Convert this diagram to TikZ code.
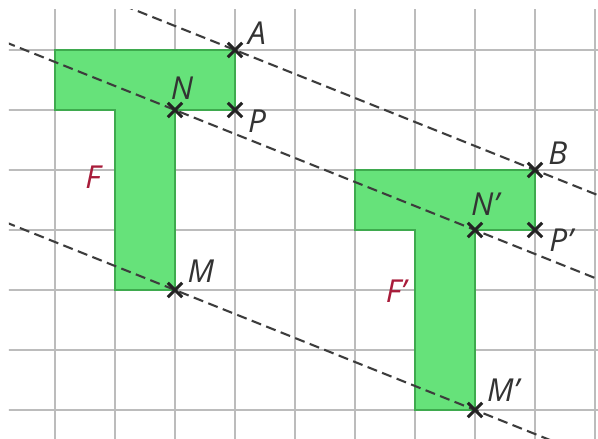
\documentclass[tikz,border=0pt]{standalone}
\usepackage{fontspec}
\setmainfont{Open Sans}
\usetikzlibrary{calc}
\definecolor{gridgray}{RGB}{188,188,188}
\definecolor{tfill}{RGB}{102,226,122}
\definecolor{tdraw}{RGB}{62,170,78}
\definecolor{dashgray}{RGB}{60,60,60}
\definecolor{crossk}{RGB}{35,35,35}
\definecolor{fred}{RGB}{168,28,58}
\tikzset{
  gridline/.style={draw=gridgray, line width=0.75pt},
  tshape/.style={fill=tfill, draw=tdraw, line width=0.6pt},
  dashline/.style={draw=dashgray, line width=1pt, dash pattern=on 4.8pt off 2.6pt},
  crossline/.style={draw=crossk, line width=1.5pt},
  lbl/.style={text=black!80, font=\fontsize{15}{17}\selectfont\itshape, inner sep=0pt},
  flbl/.style={text=fred, font=\fontsize{15}{17}\selectfont\itshape, inner sep=0pt},
}
\newcommand{\crossmark}[1]{\draw[crossline] ($(#1)+(-0.12,0.12)$) -- ($(#1)+(0.12,-0.12)$) ($(#1)+(-0.12,-0.12)$) -- ($(#1)+(0.12,0.12)$);}
\begin{document}
\begin{tikzpicture}
\useasboundingbox (-0.9167,0.8333) rectangle (9.05,-6.4833);
\fill[white] (-0.9167,0.8333) rectangle (9.05,-6.4833);
\coordinate (A) at (3,0);
\coordinate (N) at (2,-1);
\coordinate (P) at (3,-1);
\coordinate (M) at (2,-4);
\coordinate (B) at (8,-2);
\coordinate (N2) at (7,-3);
\coordinate (P2) at (8,-3);
\coordinate (M2) at (7,-6);
\begin{scope}
\clip (-0.767,0.667) rectangle (9.05,-6.4833);
\foreach \i in {0,...,9} \draw[gridline] (\i,1) -- (\i,-7);
\foreach \j in {0,...,6} \draw[gridline] (-1,-\j) -- (10,-\j);
\draw[tshape] (0,0) -- (3,0) -- (3,-1) -- (2,-1) -- (2,-4) -- (1,-4) -- (1,-1) -- (0,-1) -- cycle;
\draw[tshape] (5,-2) -- (8,-2) -- (8,-3) -- (7,-3) -- (7,-6) -- (6,-6) -- (6,-3) -- (5,-3) -- cycle;
\draw[dashline] ($(A)!-1!(B)$) -- ($(B)!-1!(A)$);
\draw[dashline] ($(N)!-1!(N2)$) -- ($(N2)!-1!(N)$);
\draw[dashline] ($(M)!-1!(M2)$) -- ($(M2)!-1!(M)$);
\end{scope}
\foreach \p in {A,N,P,M,B,N2,P2,M2} {\crossmark{\p}}
\node[lbl] (lA) at (3.367,0.283) {A};
\node[lbl] (lN) at (2.117,-0.633) {N};
\node[lbl] (lP) at (3.367,-1.183) {P};
\node[lbl] (lM) at (2.433,-3.683) {M};
\node[lbl] (lB) at (8.383,-1.717) {B};
\node[lbl] (lN2) at (7.167,-2.567) {N'};
\node[lbl] (lP2) at (8.433,-3.167) {P'};
\node[lbl] (lM2) at (7.467,-5.667) {M'};
\node[flbl] (lF) at (0.633,-2.117) {F};
\node[flbl] (lF2) at (5.683,-4.017) {F'};
\end{tikzpicture}
\end{document}
